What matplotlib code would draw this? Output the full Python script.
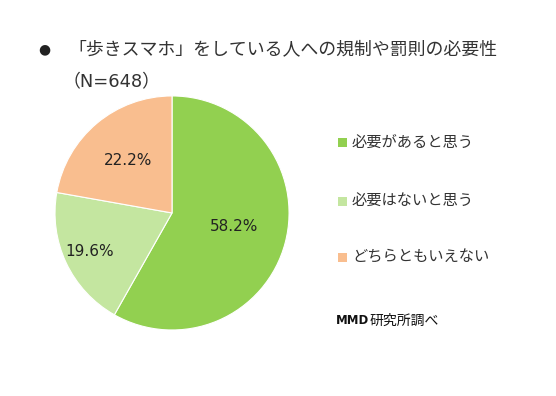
import matplotlib
matplotlib.use("Agg")
import matplotlib.pyplot as plt
from matplotlib.patches import Rectangle
import numpy as np

plt.rcParams['font.family'] = ['Noto Sans CJK JP', 'DejaVu Sans']

title = "「歩きスマホ」をしている人への規制や罰則の必要性"
subtitle = "（N=648）"
categories = ["必要があると思う", "必要はないと思う", "どちらともいえない"]
values = [58.2, 19.6, 22.2]
colors = ["#92D050", "#C4E6A0", "#F9BE8F"]
source_bold = "MMD"
source_rest = "研究所調べ"

# radial distance of each percentage label (fraction of radius)
label_dist = [0.55, 0.78, 0.58]

fig = plt.figure(figsize=(5.56, 3.96), dpi=100)
fig.patch.set_facecolor("white")

ax = fig.add_axes([0.0989, 0.1667, 0.421, 0.591])
wedges, texts, autotexts = ax.pie(
    values, colors=colors, startangle=90, counterclock=False,
    autopct=lambda p: f"{p:.1f}%", pctdistance=0.55,
    textprops=dict(fontsize=11, color="#222222", family=['DejaVu Sans']),
    wedgeprops=dict(linewidth=0.8, edgecolor="white"))
for w, t, d in zip(wedges, autotexts, label_dist):
    ang = np.deg2rad((w.theta1 + w.theta2) / 2)
    t.set_position((d * np.cos(ang), d * np.sin(ang) * 0.8 if d < 0.56 else d * np.sin(ang)))
ax.set_aspect("equal")
ax.set_xlim(-1, 1)
ax.set_ylim(-1, 1)

W, H = 556, 396
def fx(x): return x / W
def fy(y): return 1 - y / H

fig.text(fx(38), fy(49), "●", fontsize=10, color="#222222", va="center", ha="left",
         family=['DejaVu Sans'])
fig.text(fx(68), fy(49), title, fontsize=12.9, color="#333333", va="center", ha="left")
fig.text(fx(63), fy(82), subtitle, fontsize=12.9, color="#333333", va="center", ha="left",
         family=['DejaVu Sans', 'Noto Sans CJK JP'])

legend_y = [142, 201, 257]
for cat, col, y in zip(categories, colors, legend_y):
    fig.patches.append(Rectangle((fx(338), fy(y + 4.5)), 9 / W, 9 / H,
                                 transform=fig.transFigure, facecolor=col,
                                 edgecolor="none"))
    fig.text(fx(352), fy(y), cat, fontsize=11, color="#333333", va="center", ha="left")

t1 = fig.text(fx(336), fy(321), source_bold, fontsize=8.5, fontweight="heavy",
              color="#111111", va="center", ha="left", family=['DejaVu Sans'])
fig.canvas.draw()
bb = t1.get_window_extent()
fig.text(bb.x1 / W + 0.5 / W, fy(321), source_rest, fontsize=10, color="#111111",
         va="center", ha="left")

fig.savefig("out.png", dpi=100, facecolor="white")
